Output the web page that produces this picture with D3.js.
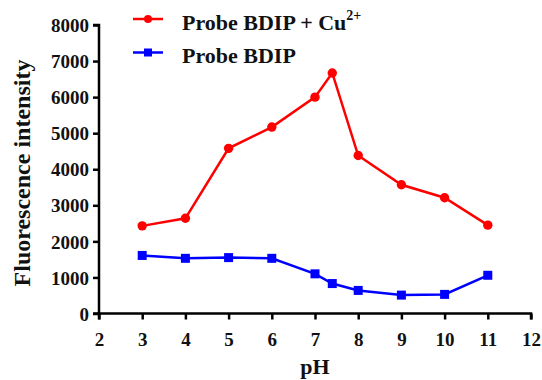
<!DOCTYPE html>
<html><head><meta charset="utf-8">
<script src="https://cdn.jsdelivr.net/npm/d3@7"></script>
<style>body{margin:0;background:#fff}svg{display:block}text{font-family:"Liberation Serif","Times New Roman",serif;font-weight:bold}</style>
</head><body><svg id="c" width="542" height="380"></svg>
<script>
const pH = [3, 4, 5, 6, 7, 7.4, 8, 9, 10, 11];
const probeCu = [2430, 2640, 4580, 5170, 6000, 6670, 4380, 3570, 3210, 2450];
const probe = [1610, 1530, 1550, 1530, 1100, 830, 640, 510, 530, 1060];
const xTicks = [2,3,4,5,6,7,8,9,10,11,12];
const yTicks = [0,1000,2000,3000,4000,5000,6000,7000,8000];

const svg = d3.select("#c");
const x = d3.scaleLinear().domain([2,12]).range([99,531]);
const y = d3.scaleLinear().domain([0,8000]).range([313.5,25]);

const gx = svg.append("g").attr("transform","translate(0,313.5)")
  .call(d3.axisBottom(x).tickValues(xTicks).tickSize(6).tickPadding(4).tickFormat(d3.format("d")));
const gy = svg.append("g").attr("transform","translate(99,0)")
  .call(d3.axisLeft(y).tickValues(yTicks).tickSize(6).tickPadding(4).tickFormat(d3.format("d")));
[gx,gy].forEach(g=>{
  g.attr("font-family",null).attr("font-size",null);
  g.select(".domain").attr("stroke","#000").attr("stroke-width",2.5);
  g.selectAll(".tick line").attr("stroke","#000").attr("stroke-width",2.5);
  g.selectAll(".tick text").attr("fill","#111").style("font-family",'"Liberation Serif","Times New Roman",serif').style("font-size","19px").style("font-weight","bold");
});
gx.selectAll(".tick text").attr("dy",null).attr("y",32);
gy.selectAll(".tick text").attr("dy","0.35em");
gx.select(".domain").attr("d","M99,6V0H531V6");
gy.select(".domain").attr("d","M-6,25H0V313.5H-6");

svg.append("text").attr("x",315).attr("y",374).attr("text-anchor","middle").style("font-size","22px").attr("fill","#111").text("pH");
svg.append("text").attr("transform","translate(30,173) rotate(-90)").attr("text-anchor","middle").style("font-size","24px").attr("fill","#111").text("Fluorescence intensity");

const line = d3.line().x((d,i)=>x(pH[i])).y(d=>y(d));
svg.append("path").datum(probeCu).attr("d",line).attr("fill","none").attr("stroke","#ff0000").attr("stroke-width",2.5);
svg.append("path").datum(probe).attr("d",line).attr("fill","none").attr("stroke","#0000ff").attr("stroke-width",2.5);
svg.selectAll("circle.r").data(probeCu).join("circle").attr("cx",(d,i)=>x(pH[i])).attr("cy",d=>y(d)).attr("r",4.7).attr("fill","#ff0000");
svg.selectAll("rect.b").data(probe).join("rect").attr("x",(d,i)=>x(pH[i])-4.5).attr("y",d=>y(d)-4.5).attr("width",9).attr("height",9).attr("fill","#0000ff");

// legend
const lg = svg.append("g");
lg.append("line").attr("x1",133).attr("x2",163).attr("y1",19).attr("y2",19).attr("stroke","#ff0000").attr("stroke-width",2.5);
lg.append("circle").attr("cx",148).attr("cy",19).attr("r",4).attr("fill","#ff0000");
lg.append("line").attr("x1",133).attr("x2",163).attr("y1",52.5).attr("y2",52.5).attr("stroke","#0000ff").attr("stroke-width",2.5);
lg.append("rect").attr("x",144).attr("y",48.5).attr("width",8).attr("height",8).attr("fill","#0000ff");
const t1 = lg.append("text").attr("x",182).attr("y",30).style("font-size","22px").attr("fill","#111");
t1.append("tspan").text("Probe BDIP + Cu");
t1.append("tspan").attr("dy",-10).style("font-size","14px").text("2+");
lg.append("text").attr("x",182).attr("y",63).style("font-size","22px").attr("fill","#111").text("Probe BDIP");
</script></body></html>
